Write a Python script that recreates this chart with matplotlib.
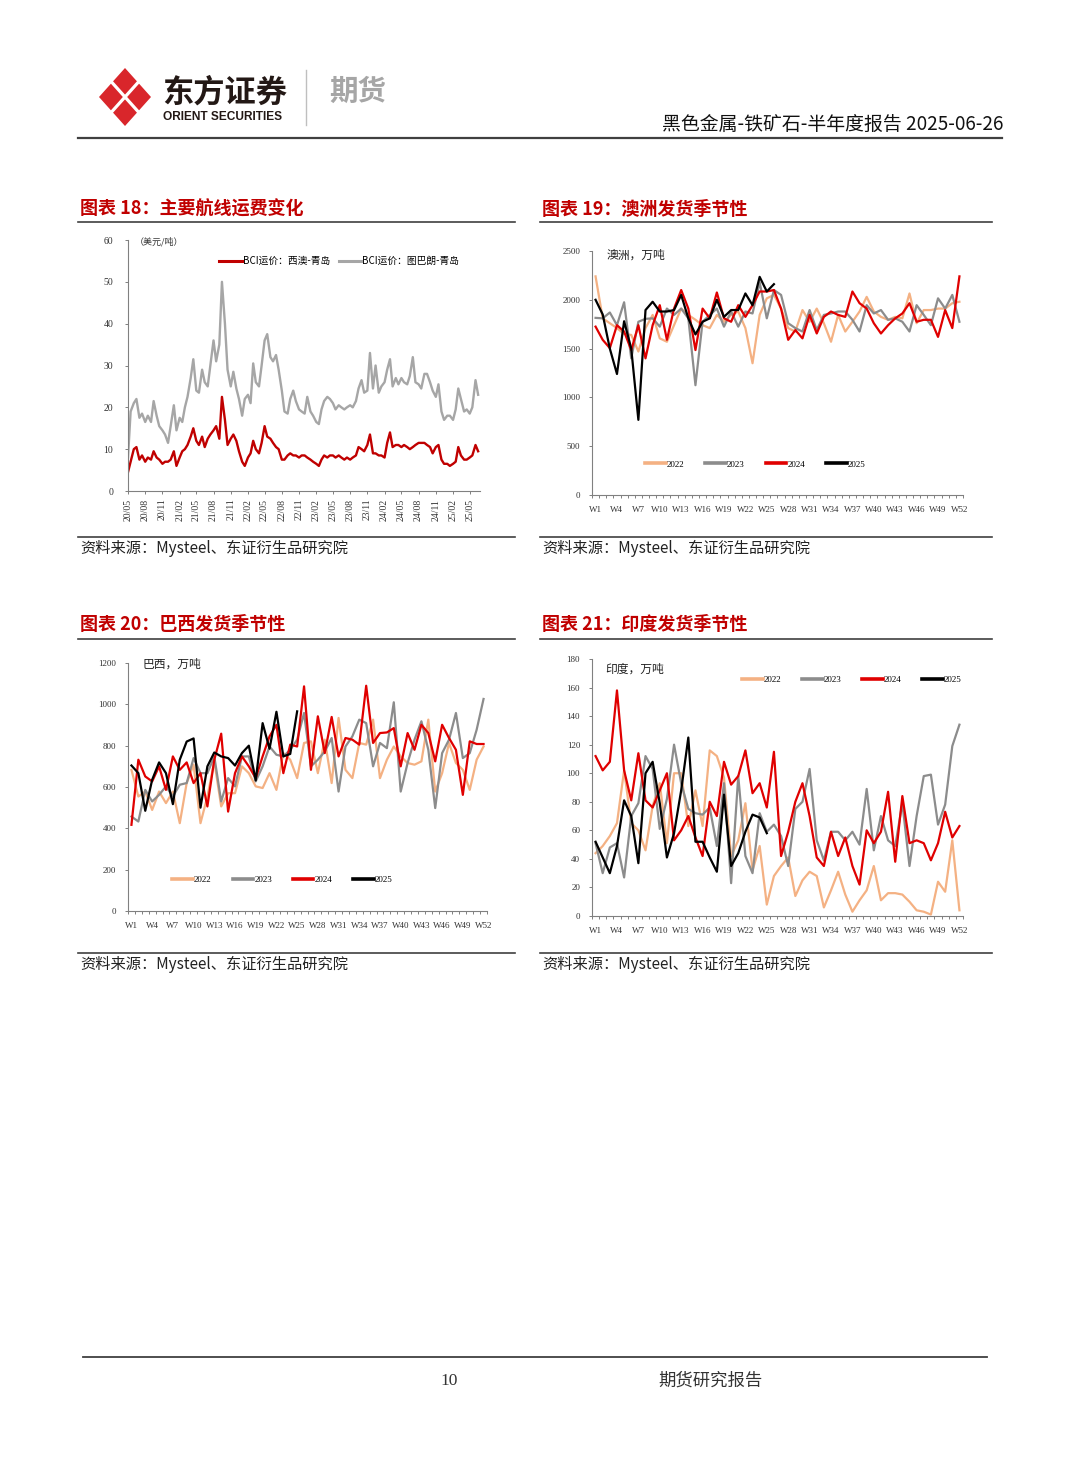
#!/usr/bin/env python3
"""Iron ore half-year report page: freight rates and seasonal shipments (AU / BR / IN)."""

import matplotlib
matplotlib.use("Agg")
import matplotlib.pyplot as plt
import matplotlib.dates as mdates
from matplotlib.patches import Polygon
import numpy as np
import pandas as pd

CJK = ["Noto Sans CJK SC", "DejaVu Sans"]
SERIF = ["Liberation Serif", "Noto Sans CJK SC"]
plt.rcParams["font.family"] = CJK
plt.rcParams["axes.unicode_minus"] = False

# ---------------------------------------------------------------- data
# BCI freight, semi-monthly from 2020-05 (USD/t)
bci_dates = pd.date_range("2020-05-01", periods=124, freq="SMS")
bci_wa_qd = [4.5, 7, 10, 10.5, 7.5, 8.5, 7, 8, 7.5, 9.5,
             8, 7.5, 6.5, 7, 7, 7.5, 9.5, 6, 8, 9.5,
             10, 11, 13, 15, 12, 11, 13, 10.5, 12.5, 13.5,
             14.5, 15.5, 12.5, 22.5, 17, 11, 12.5, 13.5, 12, 9.5,
             7, 6, 8, 9, 12, 10, 9, 11.5, 15.5, 13,
             12.5, 11.5, 10.5, 10, 7.5, 7.5, 8.5, 9, 8.5, 8.5,
             8, 8.5, 8.5, 8, 7.5, 7, 6.5, 6, 7.5, 8.5,
             8, 8.5, 8.5, 8, 8.5, 8, 7.5, 8, 7.5, 8,
             8.5, 10.5, 10, 9.5, 11, 13.5, 9, 9, 8.5, 8.5,
             8, 11.5, 14, 10.5, 11, 11, 10.5, 11, 10.5, 10,
             10.5, 11, 11.5, 11.5, 11.5, 11, 10.5, 9, 10.5, 11,
             7.5, 6.5, 6.5, 6, 6.5, 7, 10.5, 8.5, 7.5, 7.5,
             8, 8.5, 11, 9.5]
bci_tub_qd = [8, 19, 21, 22, 17.5, 18.5, 16.5, 18, 16.5, 21.5,
              18, 15.5, 14.5, 13.5, 11.5, 15.5, 20.5, 14.5, 17.5, 16.5,
              20, 22.5, 27, 31.5, 24, 23.5, 29, 26, 25, 30,
              36, 31, 35, 50, 40, 29, 25, 28.5, 24.5, 22,
              18, 22, 23, 21, 30.5, 26, 25, 30, 36, 37.5,
              32, 31, 32.5, 29, 24, 19, 18.5, 22, 24, 21.5,
              19.5, 19, 18.5, 22.5, 19, 18, 16.5, 16, 19.5, 21.5,
              22.5, 22, 21, 19.5, 20.5, 20, 19.5, 20, 20.5, 20,
              21.5, 24.5, 26.5, 23.5, 24, 33, 24.5, 30, 23.5, 25,
              26, 29, 31.5, 25, 27, 25.5, 27, 26, 25.5, 27.5,
              32, 26, 25.5, 24.5, 28, 28, 26, 24, 22.5, 25.5,
              19, 17, 18, 18, 17, 19.5, 24.5, 22, 19, 19.5,
              18.5, 20, 26.5, 23]

years = ["2022", "2023", "2024", "2025"]
week_labels = [f"W{w}" for w in range(1, 53, 3)]

# Australia shipments (10k t)
aus_2022 = [2240, 1810, 1760, 1710, 1650, 1640, 1470, 1710, 1845, 1605, 1570, 1740, 1910,
            1845, 1795, 1740, 1710, 1845, 1775, 1845, 1880, 1710, 1350, 1845, 2015, 2050,
            1910, 1710, 1675, 1895, 1775, 1910, 1760, 1570, 1845, 1675, 1775, 1880, 2030,
            1880, 1825, 1795, 1825, 1810, 2065, 1760, 1895, 1895, 1910, 1910, 1965, 1980]
aus_2023 = [1815, 1810, 1870, 1740, 1975, 1400, 1775, 1805, 1810, 1725, 1910, 1845, 1910,
            1810, 1125, 1775, 1845, 1910, 1725, 1880, 1725, 1880, 1860, 2180, 1810, 2100,
            2050, 1760, 1710, 1675, 1895, 1690, 1845, 1860, 1880, 1880, 1795, 1675, 1945,
            1860, 1895, 1795, 1810, 1775, 1675, 1945, 1845, 1740, 2015, 1910, 2050, 1775]
aus_2024 = [1725, 1590, 1505, 1740, 1675, 1485, 1740, 1400, 1740, 1945, 1590, 1910, 2100,
            1910, 1485, 1910, 1810, 2075, 1810, 1775, 1945, 1825, 1945, 2085, 2085, 2100,
            1910, 1590, 1690, 1605, 1845, 1655, 1825, 1880, 1845, 1825, 2085, 1965, 1910,
            1760, 1655, 1740, 1810, 1860, 1965, 1775, 1795, 1795, 1620, 1895, 1710, 2240]
aus_2025 = [2000, 1850, 1500, 1240, 1780, 1500, 770, 1895, 1980, 1880, 1880, 1895, 2050,
            1810, 1645, 1775, 1810, 2000, 1825, 1895, 1895, 2065, 1945, 2235, 2085, 2160]

# Brazil shipments (10k t)
bra_2022 = [683, 554, 578, 489, 578, 522, 578, 425, 619, 708, 425, 554, 724,
            506, 570, 570, 700, 667, 603, 595, 667, 586, 764, 732, 643, 813,
            821, 667, 829, 619, 934, 683, 643, 813, 805, 926, 643, 732, 796,
            748, 716, 708, 724, 926, 578, 667, 813, 716, 683, 586, 732, 796]
bra_2023 = [457, 433, 586, 530, 562, 603, 554, 611, 619, 740, 667, 667, 748,
            530, 643, 603, 748, 748, 627, 700, 796, 756, 748, 780, 829, 958,
            700, 732, 772, 837, 578, 796, 845, 926, 909, 700, 813, 788, 1010,
            578, 716, 829, 918, 780, 498, 764, 829, 958, 740, 764, 877, 1026]
bra_2024 = [417, 732, 651, 627, 700, 586, 748, 683, 719, 619, 667, 506, 732,
            858, 481, 667, 748, 700, 643, 748, 845, 901, 667, 805, 796, 1087,
            683, 942, 764, 939, 748, 837, 829, 805, 1090, 813, 861, 864, 885,
            700, 861, 780, 901, 861, 724, 901, 837, 780, 562, 821, 808, 808]
bra_2025 = [704, 667, 485, 635, 719, 667, 517, 732, 820, 835, 500, 700, 767,
            748, 740, 704, 764, 800, 632, 909, 785, 964, 748, 760, 966]

# India shipments (10k t)
ind_2022 = [44, 49, 56, 65, 102, 65, 60, 46, 77, 93, 51, 100, 100,
            63, 88, 63, 116, 112, 97, 42, 53, 79, 32, 49, 8, 28,
            35, 41, 14, 25, 31, 28, 6, 18, 31, 15, 3, 11, 18,
            35, 11, 16, 16, 15, 10, 4, 3, 1, 24, 17, 53, 4]
ind_2023 = [51, 30, 48, 51, 27, 70, 79, 112, 103, 61, 82, 120, 93,
            75, 72, 71, 76, 49, 93, 23, 98, 42, 30, 72, 59, 64,
            56, 35, 75, 80, 103, 53, 39, 59, 59, 53, 59, 50, 89,
            46, 70, 53, 49, 79, 35, 70, 98, 99, 64, 78, 119, 134]
ind_2024 = [112, 102, 108, 158, 102, 81, 114, 81, 76, 88, 100, 53, 60,
            70, 55, 42, 80, 70, 108, 92, 98, 116, 86, 93, 76, 115,
            42, 59, 80, 93, 70, 41, 35, 59, 42, 55, 35, 22, 60,
            51, 59, 87, 38, 84, 51, 53, 51, 39, 51, 73, 55, 63]
ind_2025 = [52, 41, 30, 49, 81, 70, 37, 100, 108, 79, 41, 58, 88,
            125, 52, 52, 41, 31, 85, 35, 44, 59, 71, 69, 58]

YEAR_COLORS = {"2022": "#F4B183", "2023": "#8C8C8C", "2024": "#E00000", "2025": "#000000"}
TITLE_RED = "#C00000"
AXIS_GRAY = "#808080"

# ---------------------------------------------------------------- page
W, H = 1080, 1465
fig = plt.figure(figsize=(W / 100, H / 100), dpi=100)
pg = fig.add_axes([0, 0, 1, 1])
pg.set_xlim(0, W)
pg.set_ylim(H, 0)
pg.axis("off")


def box(x0, y0, x1, y1):
    """pixel box (top-left origin) -> figure fraction rect"""
    return [x0 / W, 1 - y1 / H, (x1 - x0) / W, (y1 - y0) / H]


# logo
cx, cy = 125, 97
pg.add_patch(Polygon([(cx, cy - 29), (cx + 26, cy), (cx, cy + 29), (cx - 26, cy)],
                     closed=True, color="#D9262B", lw=0, joinstyle="round"))
pg.plot([cx - 13, cx + 13], [cy - 14.5, cy + 14.5], color="white", lw=2.3)
pg.plot([cx + 13, cx - 13], [cy - 14.5, cy + 14.5], color="white", lw=2.3)
pg.text(162, 93, "东方证券", fontsize=22.5, fontweight="bold", color="#231815", va="center")
pg.text(163, 117, "ORIENT SECURITIES", fontsize=8.6, fontweight="bold", color="#231815",
        va="center", family=["Liberation Sans", "DejaVu Sans"])
pg.plot([306, 306], [70, 125], color="#BFBFBF", lw=1)
pg.text(329, 92, "期货", fontsize=20.5, fontweight="bold", color="#A6A6A6", va="center")
pg.text(1003, 124, "黑色金属-铁矿石-半年度报告 2025-06-26", fontsize=13.6, ha="right",
        va="center", color="#111111")
pg.plot([78, 1002], [138, 138], color="#404040", lw=1.6)

# footer
pg.plot([83, 987], [1357, 1357], color="#404040", lw=1.3)
pg.text(449, 1381, "10", fontsize=12.5, ha="center", va="center", family=SERIF, color="#333333")
pg.text(710, 1381, "期货研究报告", fontsize=12.5, ha="center", va="center", color="#333333")

# chart frames: title, rules, source
frames = [
    (80, 209, 78, 515, 222, 537, 548, "图表 18：主要航线运费变化"),
    (542, 209, 540, 992, 222, 537, 548, "图表 19：澳洲发货季节性"),
    (80, 625, 78, 515, 639, 953, 964, "图表 20：巴西发货季节性"),
    (542, 625, 540, 992, 639, 953, 964, "图表 21：印度发货季节性"),
]
for tx, ty, lx0, lx1, ly_top, ly_src, sy, title in frames:
    pg.text(tx, ty, title, fontsize=13, fontweight="bold", color=TITLE_RED, va="center")
    pg.plot([lx0, lx1], [ly_top, ly_top], color="#404040", lw=1.2)
    pg.plot([lx0, lx1], [ly_src, ly_src], color="#404040", lw=1.2)
    pg.text(tx, sy, "资料来源：Mysteel、东证衍生品研究院", fontsize=11, va="center",
            color="#222222")


def style_axes(ax):
    for side in ("top", "right"):
        ax.spines[side].set_visible(False)
    for side in ("left", "bottom"):
        ax.spines[side].set_color(AXIS_GRAY)
        ax.spines[side].set_linewidth(0.8)
    ax.tick_params(axis="both", which="both", colors=AXIS_GRAY, length=2.5, width=0.7,
                   labelcolor="#333333", labelsize=6.5)
    for lab in ax.get_yticklabels() + ax.get_xticklabels(which="both"):
        lab.set_family(SERIF)


# ---------------------------------------------------------------- chart 18
ax = fig.add_axes(box(128, 240, 480, 491))
ax.plot(bci_dates, bci_wa_qd, color="#C00000", lw=1.7, label="BCI运价：西澳-青岛")
ax.plot(bci_dates, bci_tub_qd, color="#A6A6A6", lw=1.7, label="BCI运价：图巴朗-青岛")
ax.set_xlim(pd.Timestamp("2020-05-01"), pd.Timestamp("2025-06-25"))
ax.set_ylim(0, 60)
ax.set_yticks(np.arange(0, 61, 10))
ax.xaxis.set_major_locator(mdates.MonthLocator(bymonth=[2, 5, 8, 11]))
ax.xaxis.set_major_formatter(mdates.DateFormatter("%y/%m"))
style_axes(ax)
ax.tick_params(axis="y", pad=8, labelsize=7)
ax.tick_params(axis="x", labelrotation=90, pad=3, labelsize=7)
for lab in ax.get_xticklabels():
    lab.set_family(SERIF)
ax.text(0.02, 0.995, "（美元/吨）", transform=ax.transAxes, fontsize=6.5, va="center",
        color="#333333")
leg = ax.legend(loc="center", bbox_to_anchor=(0.6, 0.915), ncol=2, frameon=False,
                fontsize=7, handlelength=2.3, handletextpad=0.1, columnspacing=0.9)
for line in leg.get_lines():
    line.set_linewidth(2.2)


# ---------------------------------------------------------------- seasonal charts
def seasonal(rect_px, series, ymax, ystep, unit, leg_anchor):
    ax = fig.add_axes(box(*rect_px))
    for yr, vals in zip(years, series):
        ax.plot(np.arange(1, len(vals) + 1), vals, color=YEAR_COLORS[yr], lw=1.6,
                label=yr, solid_joinstyle="round")
    ax.set_xlim(0.5, 52.5)
    ax.set_ylim(0, ymax)
    ax.set_yticks(np.arange(0, ymax + 1, ystep))
    ax.set_xticks(np.arange(0.5, 53, 1))
    ax.set_xticklabels([])
    ax.set_xticks(np.arange(1, 53, 3), minor=True)
    ax.set_xticklabels(week_labels, minor=True)
    style_axes(ax)
    ax.tick_params(axis="x", which="minor", length=0, pad=8)
    ax.tick_params(axis="y", pad=6)
    ax.text(unit[0], unit[1], unit[2], transform=ax.transAxes, fontsize=8.5, va="center",
            color="#222222")
    leg = ax.legend(loc="center", bbox_to_anchor=leg_anchor, ncol=4, frameon=False,
                    prop={"family": SERIF, "size": 6.5}, handlelength=2.3,
                    handletextpad=0.1, columnspacing=2.3)
    for line in leg.get_lines():
        line.set_linewidth(2.6)
    return ax


seasonal((592, 251, 963, 495), [aus_2022, aus_2023, aus_2024, aus_2025], 2500, 500,
         (0.04, 0.985, "澳洲，万吨"), (0.44, 0.125))
seasonal((128, 663, 487, 911), [bra_2022, bra_2023, bra_2024, bra_2025], 1200, 200,
         (0.04, 0.995, "巴西，万吨"), (0.43, 0.125))
seasonal((592, 659, 963, 916), [ind_2022, ind_2023, ind_2024, ind_2025], 180, 20,
         (0.035, 0.96, "印度，万吨"), (0.70, 0.918))

fig.savefig("out.png", dpi=100)
